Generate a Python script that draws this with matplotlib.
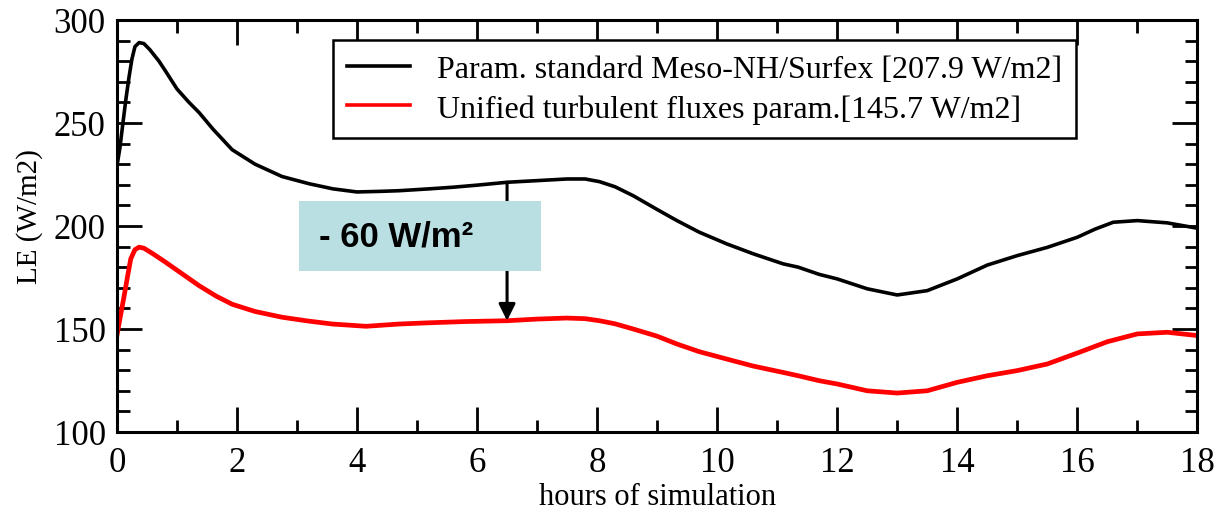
import matplotlib
matplotlib.use("Agg")
import matplotlib.pyplot as plt
from matplotlib.ticker import MultipleLocator

# values
hours_std = [0.0, 0.05, 0.1, 0.15, 0.2, 0.25, 0.3, 0.37, 0.45, 0.55, 0.7, 0.82, 1.0, 1.2, 1.37,
             1.6, 1.92, 2.3, 2.75, 3.2, 3.6, 4.0, 4.4, 4.7, 5.2, 5.6, 6.0, 6.5, 7.0, 7.5,
             7.8, 8.04, 8.3, 8.6, 9.0, 9.33, 9.7, 10.16, 10.6, 11.1, 11.35, 11.7, 12.0,
             12.5, 13.0, 13.5, 14.0, 14.5, 15.0, 15.5, 16.0, 16.3, 16.6, 17.0, 17.5, 18.0]
le_std = [229, 238, 250, 261.6, 272, 281, 287, 289, 288.5, 285.5, 280, 274.7, 266.5, 260, 255,
          247, 237, 230, 224, 220.5, 218, 216.5, 216.8, 217.1, 218, 218.8, 219.8, 221.2, 222, 222.8,
          222.8, 221.5, 219, 214.7, 208, 202.6, 197, 191.3, 186.5, 181.6, 180, 176.5, 174.3,
          169.5, 166.5, 168.6, 174.3, 181, 185.6, 189.6, 194.5, 198.5, 201.8, 202.6, 201.5, 198.9]

hours_uni = [0.0, 0.05, 0.12, 0.18, 0.23, 0.3, 0.37, 0.45, 0.6, 0.81, 1.1, 1.37, 1.65, 1.92,
             2.3, 2.75, 3.2, 3.59, 4.15, 4.7, 5.2, 5.8, 6.5, 7.0, 7.49, 7.8, 8.04, 8.3, 8.6,
             9.0, 9.33, 9.7, 10.16, 10.6, 11.1, 11.35, 11.7, 12.0, 12.5, 13.0, 13.5, 14.0,
             14.5, 15.0, 15.5, 16.0, 16.5, 17.0, 17.5, 18.0]
le_uni = [146.8, 155, 166, 176, 184, 188.5, 189.7, 189.2, 186.5, 182.4, 176.5, 171, 166, 162,
          158.5, 155.7, 153.8, 152.4, 151.3, 152.4, 153, 153.6, 154, 154.8, 155.3, 155, 154, 152.5, 150,
          146.5, 142.7, 139, 135.4, 132, 128.9, 127.3, 124.9, 123.3, 120, 118.9, 120, 124.1,
          127.3, 129.8, 133, 138.3, 143.8, 147.6, 148.4, 146.8]

label_std = "Param. standard Meso-NH/Surfex [207.9 W/m2]"
label_uni = "Unified turbulent fluxes param.[145.7 W/m2]"
diff_text = "- 60 W/m²"
arrow_hour = 6.5
arrow_top, arrow_bottom = 221.2, 154.0
box_hours = (3.04, 7.06)
box_le = (178.2, 212.1)

plt.rcParams["font.family"] = ["Liberation Serif", "DejaVu Serif"]

fig = plt.figure(figsize=(12.18, 5.1), dpi=100)
ax = fig.add_axes([0.096, 0.151, 0.887, 0.808])

ax.plot(hours_std, le_std, color="black", lw=2.6, label=label_std)
ax.plot(hours_uni, le_uni, color="red", lw=3.4, label=label_uni)

ax.set_xlim(0, 18)
ax.set_ylim(100, 300)
ax.xaxis.set_major_locator(MultipleLocator(2))
ax.xaxis.set_minor_locator(MultipleLocator(1))
ax.yaxis.set_major_locator(MultipleLocator(50))
ax.yaxis.set_minor_locator(MultipleLocator(10))
ax.tick_params(which="both", direction="in", top=True, right=True, width=2, labelsize=25)
ax.tick_params(which="major", length=18)
ax.tick_params(which="minor", length=9)
ax.tick_params(axis="x", pad=10)
ax.tick_params(axis="y", pad=8)
for sp in ax.spines.values():
    sp.set_linewidth(2.2)

ax.set_xlabel("hours of simulation", fontsize=22, labelpad=2)
ax.set_ylabel("LE (W/m2)", fontsize=21)
ax.yaxis.set_label_coords(-0.068, 0.524)

# annotation: arrow between the curves, shaded label box on top of it
ax.annotate("", xy=(arrow_hour, arrow_bottom), xytext=(arrow_hour, arrow_top),
            arrowprops=dict(arrowstyle="-|>,head_length=1.0,head_width=0.5", color="black",
                            lw=2.2, shrinkA=0, shrinkB=0), zorder=3)
ax.fill_between(box_hours, box_le[0], box_le[1], color="#b9dfe2", lw=0, zorder=4)
ax.text(box_hours[0] + 0.33, (box_le[0] + box_le[1]) / 2, diff_text, fontsize=25,
        fontweight="bold", family=["Liberation Sans", "DejaVu Sans"], va="center", ha="left",
        zorder=5)

leg = ax.legend(loc="upper left", bbox_to_anchor=(0.2, 0.951),
                fontsize=23, frameon=True, fancybox=False, edgecolor="black", framealpha=1,
                borderaxespad=0, handlelength=1.95, handletextpad=0.85, borderpad=0.45,
                labelspacing=0.32)
leg.get_frame().set_linewidth(1.8)
for h in leg.get_lines():
    h.set_linewidth(2.6)

fig.savefig("out.png", dpi=100)
